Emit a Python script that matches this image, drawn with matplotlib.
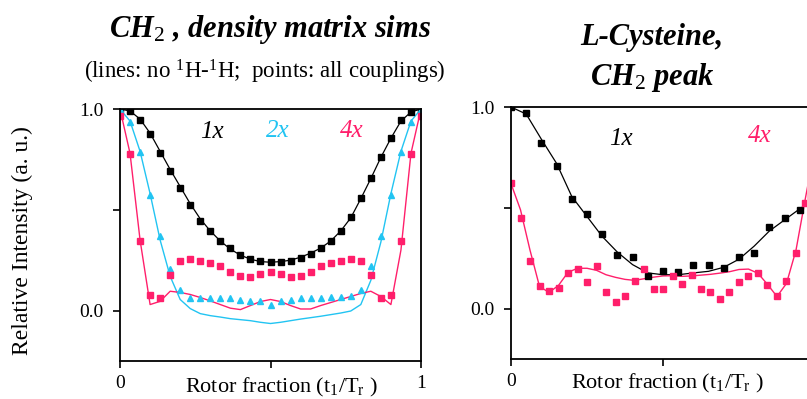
import numpy as np
import matplotlib
matplotlib.use("Agg")
import matplotlib.pyplot as plt

plt.rcParams['font.family'] = ['Liberation Serif', 'DejaVu Serif']
plt.rcParams['mathtext.fontset'] = 'custom'
plt.rcParams['mathtext.rm'] = 'Liberation Serif'
plt.rcParams['mathtext.it'] = 'Liberation Serif:italic'
plt.rcParams['mathtext.bf'] = 'Liberation Serif:bold'

BLACK = '#000000'
CYAN = '#22c4f2'
PINK = '#ff1f6b'

# left panel: CH2 density matrix simulations, sampled at t1/Tr = k/30
sim_x = np.linspace(0, 1, 31)
sim_1x_pts = [1.0, 0.99, 0.945, 0.875, 0.78, 0.693, 0.61, 0.525, 0.446, 0.396, 0.343,
              0.31, 0.277, 0.256, 0.244, 0.24, 0.24, 0.244, 0.261, 0.282, 0.31,
              0.343, 0.393, 0.462, 0.558, 0.657, 0.764, 0.858, 0.946, 0.987, 1.0]
sim_1x_line = [1.0, 0.99, 0.95, 0.88, 0.79, 0.70, 0.615, 0.53, 0.455, 0.395, 0.345,
               0.305, 0.275, 0.255, 0.243, 0.24, 0.243, 0.25, 0.265, 0.285, 0.31,
               0.345, 0.395, 0.46, 0.555, 0.655, 0.76, 0.855, 0.94, 0.985, 1.0]
sim_2x_pts = [1.0, 0.937, 0.785, 0.574, 0.368, 0.206, 0.104, 0.063, 0.063, 0.063, 0.063,
              0.063, 0.054, 0.046, 0.046, 0.03, 0.046, 0.054, 0.063, 0.063, 0.063,
              0.066, 0.066, 0.071, 0.104, 0.22, 0.368, 0.574, 0.789, 0.937, 1.0]
sim_2x_line = [1.0, 0.94, 0.79, 0.58, 0.35, 0.17, 0.055, 0.01, -0.015, -0.025, -0.032,
               -0.04, -0.045, -0.05, -0.058, -0.064, -0.058, -0.05, -0.042, -0.035, -0.028,
               -0.02, -0.012, -0.002, 0.03, 0.15, 0.34, 0.58, 0.79, 0.94, 1.0]
sim_4x_pts = [0.967, 0.776, 0.343, 0.079, 0.063, 0.178, 0.244, 0.256, 0.244, 0.236, 0.22,
              0.19, 0.17, 0.167, 0.181, 0.19, 0.181, 0.167, 0.17, 0.19, 0.22,
              0.236, 0.244, 0.256, 0.244, 0.178, 0.063, 0.079, 0.343, 0.776, 0.967]
sim_4x_line = [1.0, 0.78, 0.35, 0.03, 0.046, 0.096, 0.09, 0.08, 0.065, 0.048, 0.03,
               0.012, 0.005, 0.025, 0.045, 0.055, 0.045, 0.025, 0.008, 0.008, 0.025,
               0.04, 0.055, 0.07, 0.085, 0.096, 0.07, 0.03, 0.3, 0.78, 1.0]

# right panel: L-cysteine CH2 peak
cys_1x_x = np.linspace(0, 0.95, 20)
cys_1x_pts = [1.0, 0.969, 0.82, 0.708, 0.543, 0.47, 0.37, 0.267, 0.257, 0.163,
              0.185, 0.182, 0.215, 0.215, 0.201, 0.257, 0.276, 0.407, 0.449, 0.487]
cys_line_x = np.linspace(0, 1, 21)
cys_1x_line = [1.0, 0.965, 0.84, 0.72, 0.556, 0.457, 0.358, 0.28, 0.218, 0.177, 0.168,
               0.168, 0.177, 0.185, 0.205, 0.245, 0.31, 0.385, 0.44, 0.495, 0.545]
cys_4x_x = np.linspace(0, 1, 33)
cys_4x_pts = [0.622, 0.449, 0.238, 0.11, 0.086, 0.102, 0.177, 0.196, 0.13, 0.21, 0.081,
              0.031, 0.061, 0.139, 0.196, 0.097, 0.097, 0.16, 0.124, 0.168, 0.097,
              0.081, 0.048, 0.081, 0.13, 0.16, 0.177, 0.119, 0.061, 0.135, 0.276, 0.523]
cys_4x_line = [0.62, 0.49, 0.29, 0.11, 0.08, 0.115, 0.18, 0.2, 0.2, 0.19, 0.168,
               0.155, 0.145, 0.14, 0.148, 0.156, 0.162, 0.163, 0.16, 0.162, 0.166,
               0.17, 0.176, 0.183, 0.194, 0.196, 0.175, 0.12, 0.06, 0.125, 0.29, 0.55, 0.8]

W, H = 807, 399
fig = plt.figure(figsize=(W / 100, H / 100), dpi=100)


def box(l, t, r, b):
    return [l / W, 1 - b / H, (r - l) / W, (b - t) / H]


ax1 = fig.add_axes(box(120, 109, 421, 361))
ax2 = fig.add_axes(box(511, 107, 815, 359))

ax1.plot(sim_x, sim_1x_line, color=BLACK, lw=0.9)
ax1.plot(sim_x, sim_2x_line, color=CYAN, lw=1.0)
ax1.plot(sim_x, sim_4x_line, color=PINK, lw=1.0)
ax1.plot(sim_x, sim_1x_pts, 's', color=BLACK, ms=4)
ax1.plot(sim_x, sim_2x_pts, '^', color=CYAN, ms=4.5)
ax1.plot(sim_x, sim_4x_pts, 's', color=PINK, ms=4.5)

ax2.plot(cys_line_x, cys_1x_line, color=BLACK, lw=0.9)
ax2.plot(cys_4x_x, cys_4x_line, color=PINK, lw=1.0)
ax2.plot(cys_1x_x, cys_1x_pts, 's', color=BLACK, ms=4.5)
ax2.plot(cys_4x_x[:len(cys_4x_pts)], cys_4x_pts, 's', color=PINK, ms=4.5)

for ax in (ax1, ax2):
    ax.set_xlim(0, 1)
    ax.set_ylim(-0.25, 1.0)
    ax.set_xticks([0, 0.5, 1])
    ax.set_yticks([0, 0.5, 1])
    ax.set_yticklabels(['0.0', '', '1.0'])
    ax.tick_params(direction='out', length=5, width=1.2, labelsize=14, pad=5)
    ax.tick_params(axis='y', pad=7)
    for s in ax.spines.values():
        s.set_linewidth(1.3)
    ax.set_xlabel(r'Rotor fraction (t$_1$/T$_\mathrm{r}$ )', fontsize=16)

# the right panel runs past the picture edge, so its "1" is not shown
ax1.set_xticklabels(['0', '', '1'])
ax2.set_xticklabels(['0', '', ''])

ax1.xaxis.set_label_coords(0.535, -0.06)
ax2.xaxis.set_label_coords(0.515, -0.05)

lab = dict(fontsize=18, style='italic')
ax1.text(0.306, 0.886, '1x', color=BLACK, ha='center', va='center', **lab)
ax1.text(0.525, 0.891, '2x', color=CYAN, ha='center', va='center', **lab)
ax1.text(0.77, 0.891, '4x', color=PINK, ha='center', va='center', **lab)
ax2.text(0.362, 0.842, '1x', color=BLACK, ha='center', va='center', **lab)
ax2.text(0.819, 0.856, '4x', color=PINK, ha='center', va='center', **lab)

fig.text(22 / W, 1 - 241 / H, 'Relative Intensity (a. u.)', rotation=90,
         ha='center', va='center', fontsize=17)

tt = dict(fontsize=22, style='italic', weight='bold', ha='center', va='center')
fig.text(270 / W, 1 - 30 / H, 'CH$_2$ , density matrix sims', **tt)
fig.text(265 / W, 1 - 72 / H, r'(lines: no $^1$H-$^1$H;  points: all couplings)',
         fontsize=16.5, ha='center', va='center')
fig.text(652 / W, 1 - 37 / H, 'L-Cysteine,', **tt)
fig.text(652 / W, 1 - 78 / H, 'CH$_2$ peak', **tt)

fig.savefig('out.png', dpi=100)
